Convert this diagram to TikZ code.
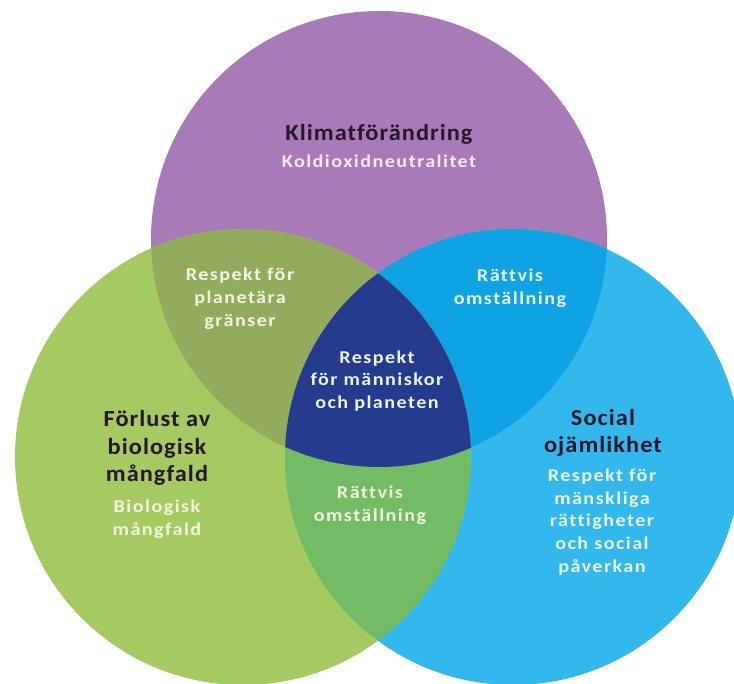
\documentclass[tikz,border=0pt]{standalone}
\usepackage{fontspec}
\setmainfont{Carlito}
\newfontfamily\titlefont[LetterSpace=4.5,FakeStretch=1.06,Ligatures=CommonOff]{Carlito}
\newfontfamily\subfont[LetterSpace=8,FakeStretch=1.12,Ligatures=CommonOff]{Carlito}
\definecolor{cpurple}{HTML}{A97AB8}
\definecolor{cgreen}{HTML}{A6CA62}
\definecolor{cblue}{HTML}{33B8EE}
\definecolor{cpg}{HTML}{93AB5C}
\definecolor{cpb}{HTML}{0FA3E3}
\definecolor{cgb}{HTML}{73BC64}
\definecolor{ccenter}{HTML}{263A8E}
\definecolor{ctitle}{HTML}{24182A}
\definecolor{csubP}{HTML}{F8ECF8}
\definecolor{csubG}{HTML}{F2F8E0}
\definecolor{csubB}{HTML}{E8F6FF}
\begin{document}
\begin{tikzpicture}[x=1pt,y=-1pt,
  title/.style={font=\titlefont\bfseries\fontsize{23}{27.5}\selectfont, text=ctitle, align=center, inner sep=0pt},
  sub/.style={font=\subfont\bfseries\fontsize{18}{22.8}\selectfont, align=center, inner sep=0pt},
]
\useasboundingbox (0,0) rectangle (734,684);
\coordinate (P) at (379,239);
\coordinate (G) at (243,457);
\coordinate (B) at (513,457);
\def\R{228}
% base circles
\fill[cpurple] (P) circle (\R);
\fill[cgreen] (G) circle (\R);
\fill[cblue] (B) circle (\R);
% pairwise overlaps
\begin{scope}
  \clip (P) circle (\R);
  \fill[cpg] (G) circle (\R);
  \fill[cpb] (B) circle (\R);
\end{scope}
\begin{scope}
  \clip (G) circle (\R);
  \fill[cgb] (B) circle (\R);
\end{scope}
% centre
\begin{scope}
  \clip (P) circle (\R);
  \clip (G) circle (\R);
  \fill[ccenter] (B) circle (\R);
\end{scope}
% labels
\node[title] (klimat) at (379,134) {Klimatförändring};
\node[sub, text=csubP] (koldiox) at (379,161) {Koldioxidneutralitet};
\node[title] (forlust) at (157,448) {Förlust av\\biologisk\\mångfald};
\node[sub, text=csubG] (biomang) at (157,519) {Biologisk\\mångfald};
\node[title] (social) at (603,433) {Social\\ojämlikhet};
\node[sub, text=csubB] (manskliga) at (602,522) {Respekt för\\mänskliga\\rättigheter\\och social\\påverkan};
\node[sub, text=csubG] (planet) at (240,299) {Respekt för\\planetära\\gränser};
\node[sub, text=csubB] (rattvisPB) at (510,288) {Rättvis\\omställning};
\node[sub, text=csubB] (center) at (377,381) {Respekt\\för människor\\och planeten};
\node[sub, text=csubG] (rattvisGB) at (370,505) {Rättvis\\omställning};
\end{tikzpicture}
\end{document}
